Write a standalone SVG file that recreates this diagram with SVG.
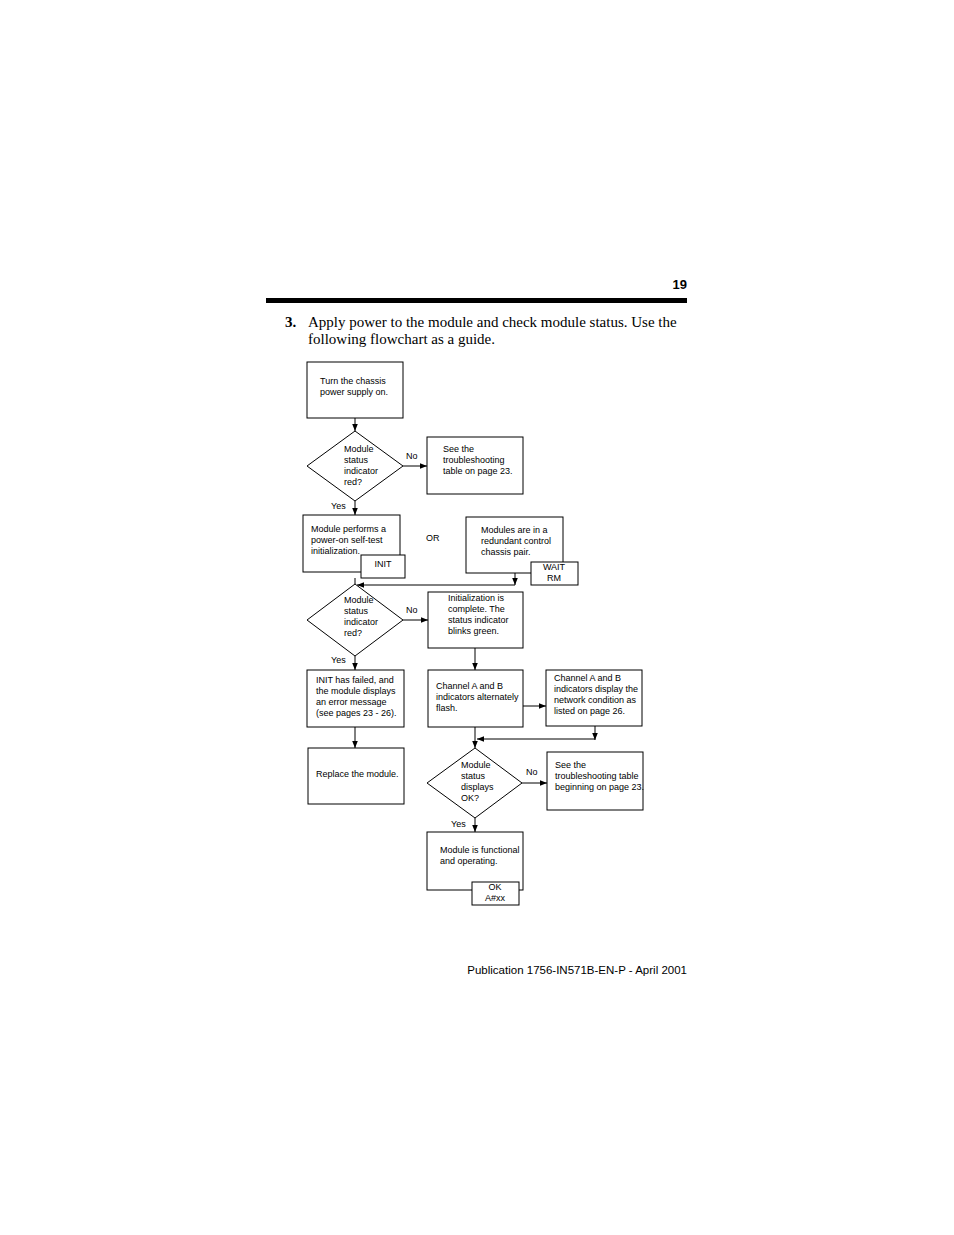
<svg xmlns="http://www.w3.org/2000/svg" width="954" height="1235" viewBox="0 0 954 1235">
<defs>
<marker id="ah" viewBox="0 0 10 10" refX="10" refY="5" markerWidth="7" markerHeight="7" markerUnits="userSpaceOnUse" orient="auto"><path d="M0,1 L10,5 L0,9 z" fill="#000"/></marker>
<style>
.b{fill:#fff;stroke:#000;stroke-width:1}
.t{font-family:"Liberation Sans",Arial,sans-serif;font-size:9px;fill:#000}
.l{stroke:#000;stroke-width:1;fill:none}
.a{stroke:#000;stroke-width:1;fill:none;marker-end:url(#ah)}
.s{font-family:"Liberation Serif","Times New Roman",serif;font-size:15px;fill:#000}
</style>
</defs>
<rect width="954" height="1235" fill="#fff"/>
<text x="687" y="289" text-anchor="end" style="font-family:'Liberation Sans',Arial,sans-serif;font-size:13px;font-weight:bold">19</text>
<rect x="266" y="298" width="421" height="5" fill="#000"/>
<text x="285" y="327" class="s" font-weight="bold">3.</text>
<text x="308" y="327" class="s">Apply power to the module and check module status. Use the</text>
<text x="308" y="344" class="s">following flowchart as a guide.</text>
<text x="687" y="974" text-anchor="end" style="font-family:'Liberation Sans',Arial,sans-serif;font-size:11.5px">Publication  1756-IN571B-EN-P - April 2001</text>

<g id="connectors">
<line class="a" x1="355" y1="418" x2="355" y2="431"/>
<line class="a" x1="403" y1="466" x2="427" y2="466"/>
<line class="a" x1="355" y1="501" x2="355" y2="515"/>
<line class="l" x1="355" y1="578" x2="355" y2="584"/>
<line class="a" x1="515" y1="573" x2="515" y2="585"/>
<line class="a" x1="515" y1="585" x2="357" y2="585"/>
<line class="a" x1="403" y1="620" x2="428" y2="620"/>
<line class="a" x1="355" y1="656" x2="355" y2="670"/>
<line class="a" x1="355" y1="727" x2="355" y2="748"/>
<line class="a" x1="475" y1="648" x2="475" y2="670"/>
<line class="a" x1="523" y1="706" x2="546" y2="706"/>
<line class="a" x1="595" y1="726" x2="595" y2="740"/>
<line class="a" x1="595" y1="739" x2="477" y2="739"/>
<line class="a" x1="475" y1="727" x2="475" y2="748"/>
<line class="a" x1="522" y1="783" x2="547" y2="783"/>
<line class="a" x1="475" y1="818" x2="475" y2="832"/>
<text class="t" x="406" y="459">No</text>
<text class="t" x="331" y="509">Yes</text>
<text class="t" x="426" y="541">OR</text>
<text class="t" x="406" y="613">No</text>
<text class="t" x="331" y="663">Yes</text>
<text class="t" x="526" y="775">No</text>
<text class="t" x="451" y="827">Yes</text>
</g>

<g id="n1"><rect class="b" x="307" y="362" width="96" height="56"/><text class="t" x="320" y="384">Turn the chassis</text><text class="t" x="320" y="395">power supply on.</text></g>
<g id="d1"><polygon class="b" points="355,431 403,466 355,501 307,466"/><text class="t" x="344" y="452">Module</text><text class="t" x="344" y="463">status</text><text class="t" x="344" y="474">indicator</text><text class="t" x="344" y="485">red?</text></g>
<g id="n2"><rect class="b" x="427" y="437" width="96" height="57"/><text class="t" x="443" y="452">See the</text><text class="t" x="443" y="463">troubleshooting</text><text class="t" x="443" y="474">table on page 23.</text></g>
<g id="n3"><rect class="b" x="303" y="515" width="97" height="57"/><text class="t" x="311" y="532">Module performs a</text><text class="t" x="311" y="543">power-on self-test</text><text class="t" x="311" y="554">initialization.</text>
<rect class="b" x="361" y="555" width="44" height="23"/><text class="t" x="383" y="567" text-anchor="middle">INIT</text></g>
<g id="n4"><rect class="b" x="466" y="517" width="97" height="56"/><text class="t" x="481" y="533">Modules are in a</text><text class="t" x="481" y="544">redundant control</text><text class="t" x="481" y="555">chassis pair.</text>
<rect class="b" x="531" y="562" width="47" height="23"/><text class="t" x="554" y="570" text-anchor="middle">WAIT</text><text class="t" x="554" y="581" text-anchor="middle">RM</text></g>
<g id="d2"><polygon class="b" points="355,584 403,620 355,656 307,620"/><text class="t" x="344" y="603">Module</text><text class="t" x="344" y="614">status</text><text class="t" x="344" y="625">indicator</text><text class="t" x="344" y="636">red?</text></g>
<g id="n5"><rect class="b" x="428" y="592" width="95" height="56"/><text class="t" x="448" y="601">Initialization is</text><text class="t" x="448" y="612">complete. The</text><text class="t" x="448" y="623">status indicator</text><text class="t" x="448" y="634">blinks green.</text></g>
<g id="n6"><rect class="b" x="307" y="670" width="97" height="57"/><text class="t" x="316" y="683">INIT has failed, and</text><text class="t" x="316" y="694">the module displays</text><text class="t" x="316" y="705">an error message</text><text class="t" x="316" y="716">(see pages 23 - 26).</text></g>
<g id="n7"><rect class="b" x="428" y="670" width="95" height="57"/><text class="t" x="436" y="689">Channel A and B</text><text class="t" x="436" y="700">indicators alternately</text><text class="t" x="436" y="711">flash.</text></g>
<g id="n8"><rect class="b" x="546" y="670" width="96" height="56"/><text class="t" x="554" y="681">Channel A and B</text><text class="t" x="554" y="692">indicators display the</text><text class="t" x="554" y="703">network condition as</text><text class="t" x="554" y="714">listed on page 26.</text></g>
<g id="n9"><rect class="b" x="308" y="748" width="96" height="56"/><text class="t" x="316" y="777">Replace the module.</text></g>
<g id="d3"><polygon class="b" points="475,748 522,783 475,818 427,783"/><text class="t" x="461" y="768">Module</text><text class="t" x="461" y="779">status</text><text class="t" x="461" y="790">displays</text><text class="t" x="461" y="801">OK?</text></g>
<g id="n10"><rect class="b" x="547" y="752" width="96" height="58"/><text class="t" x="555" y="768">See the</text><text class="t" x="555" y="779">troubleshooting table</text><text class="t" x="555" y="790">beginning on page 23.</text></g>
<g id="n11"><rect class="b" x="427" y="832" width="96" height="58"/><text class="t" x="440" y="853">Module is functional</text><text class="t" x="440" y="864">and operating.</text>
<rect class="b" x="472" y="882" width="47" height="23"/><text class="t" x="495" y="890" text-anchor="middle">OK</text><text class="t" x="495" y="901" text-anchor="middle">A#xx</text></g>
</svg>
